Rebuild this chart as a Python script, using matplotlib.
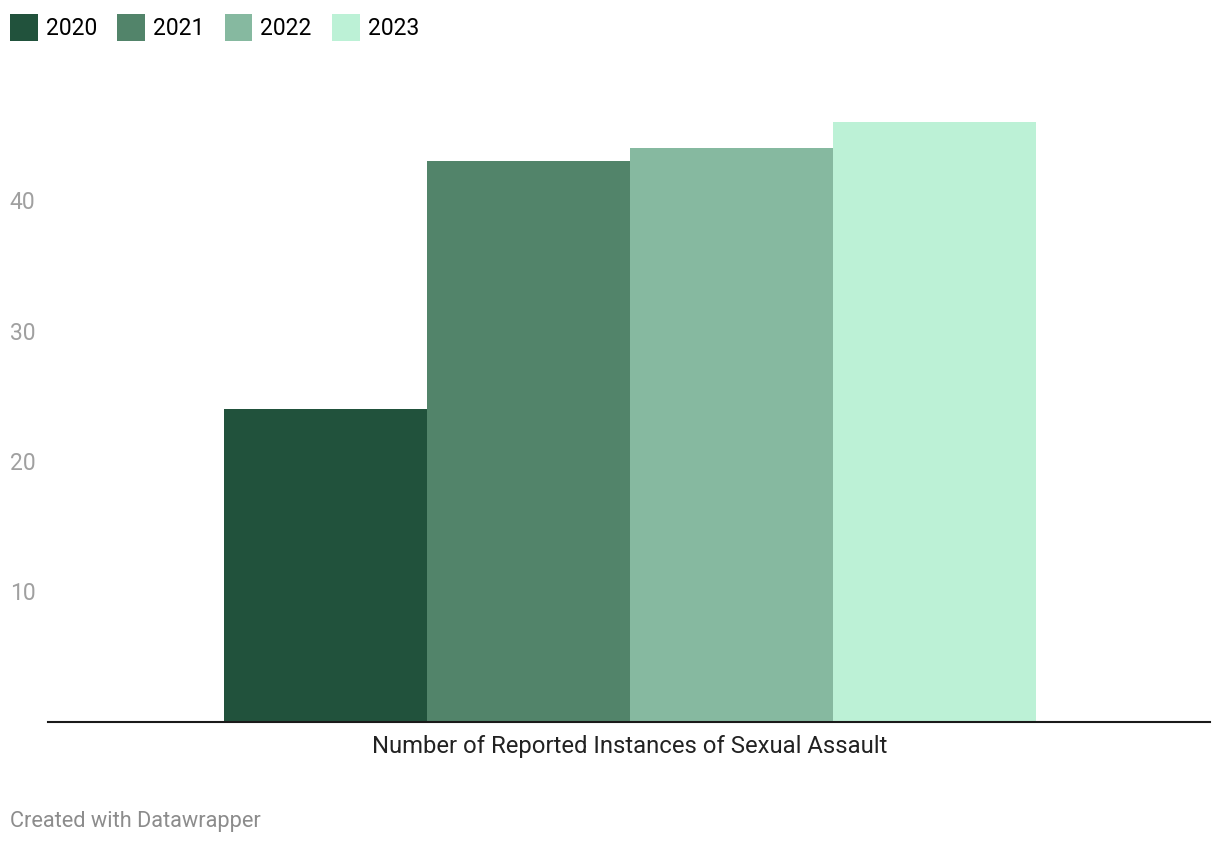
import numpy as np
import matplotlib.pyplot as plt
from matplotlib.patches import Patch

plt.rcParams['font.family'] = ['Roboto', 'DejaVu Sans']

category = 'Number of Reported Instances of Sexual Assault'
years = ['2020', '2021', '2022', '2023']
values = [24, 43, 44, 46]
colors = ['#21523c', '#52846a', '#86b9a0', '#bcf1d6']

fig = plt.figure(figsize=(12.2, 8.44), dpi=100)
ax = fig.add_axes([48 / 1220, 122 / 844, 1162 / 1220, 652.5 / 844])

# one group, four bars side by side
offsets = np.arange(len(years)) - (len(years) - 1) / 2
for off, v, c, y in zip(offsets, values, colors, years):
    ax.bar(off, v, width=1.0, color=c, label=y, zorder=2)

ax.set_xlim(-2.867, 2.857)
ax.set_ylim(0, 50)

for side in ['top', 'right', 'left']:
    ax.spines[side].set_visible(False)
ax.spines['bottom'].set_color('#1a1a1a')
ax.spines['bottom'].set_linewidth(1.5)
ax.spines['bottom'].set_zorder(3)

ax.set_xticks([0])
ax.set_xticklabels([category], fontsize=17.2, color='#222222')
ax.tick_params(axis='x', length=0, pad=9)

ax.set_yticks([10, 20, 30, 40])
ax.tick_params(axis='y', length=0, pad=27.5, labelsize=16.5, labelcolor='#a0a0a0')
for lbl in ax.get_yticklabels():
    lbl.set_horizontalalignment('left')

handles = [Patch(facecolor=c, edgecolor='none') for c in colors]
fig.legend(handles, years, loc='upper left', bbox_to_anchor=(10 / 1220, 1 - 14 / 844),
           ncol=4, frameon=False, fontsize=16.5, handlelength=1.2, handleheight=1.45,
           handletextpad=0.35, columnspacing=0.9, borderaxespad=0, borderpad=0)

fig.text(10 / 1220, 1 - 821 / 844, 'Created with Datawrapper', fontsize=15.7,
         color='#8c8c8c', va='center', ha='left')

fig.savefig('out.png', dpi=100, facecolor='white')
